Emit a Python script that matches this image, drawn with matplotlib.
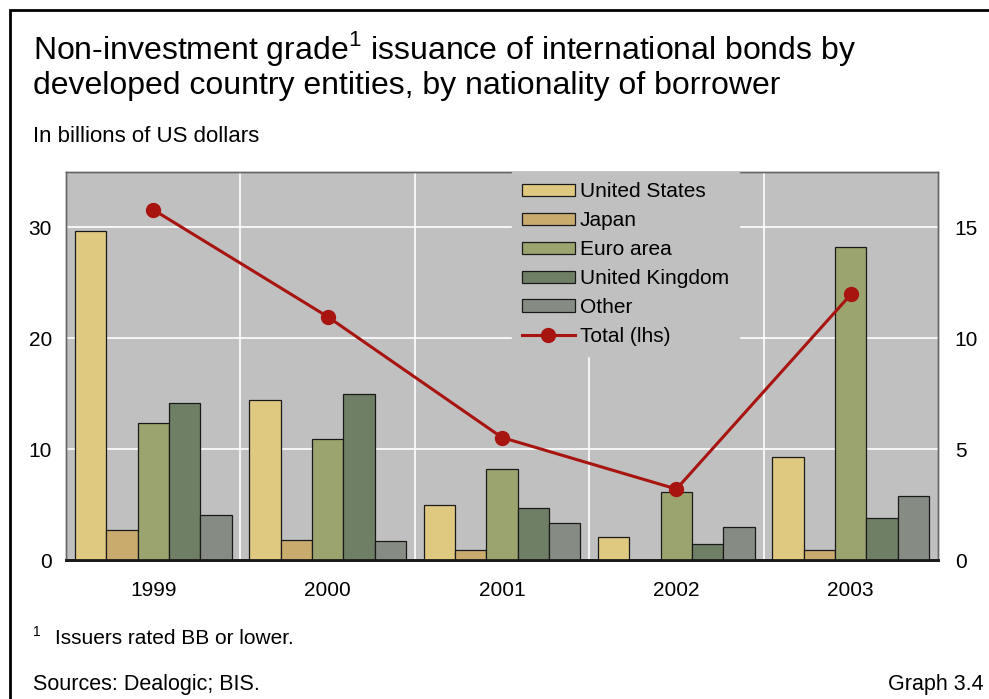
import matplotlib.pyplot as plt
import numpy as np
from matplotlib.patches import Rectangle
from matplotlib.lines import Line2D

plt.rcParams['font.family'] = ['Liberation Sans', 'DejaVu Sans']
plt.rcParams['mathtext.fontset'] = 'custom'
plt.rcParams['mathtext.rm'] = 'Liberation Sans'

years = ['1999', '2000', '2001', '2002', '2003']
series = ['United States', 'Japan', 'Euro area', 'United Kingdom', 'Other']
# issuance by nationality of borrower (right-hand scale)
us = [14.85, 7.2, 2.5, 1.05, 4.65]
japan = [1.35, 0.9, 0.45, 0.0, 0.45]
euro = [6.2, 5.45, 4.1, 3.05, 14.1]
uk = [7.1, 7.5, 2.35, 0.7, 1.9]
other = [2.05, 0.85, 1.65, 1.5, 2.9]
# total (left-hand scale)
total = [31.6, 21.95, 11.05, 6.4, 23.95]

colors = ['#DFC87F', '#C9AB6E', '#9BA46E', '#6F7F66', '#868C84']
line_color = '#A81410'
bg = '#C0C0C0'

fig = plt.figure(figsize=(9.89, 6.99), dpi=100)
ax = fig.add_axes([66 / 989, 1 - 560 / 699, (938 - 66) / 989, (560 - 172) / 699])
ax.set_facecolor(bg)

x = np.arange(len(years))
w = 0.18
for i, vals in enumerate([us, japan, euro, uk, other]):
    ax.bar(x + (i - 2) * w, vals, w, color=colors[i], edgecolor='#1a1a1a',
           linewidth=0.9, zorder=3)

ax.set_xlim(-0.5, 4.5)
ax.set_ylim(0, 17.5)
ax.set_yticks([0, 5, 10, 15])
ax.grid(axis='y', color='white', linewidth=1.2, zorder=1)
ax.set_axisbelow(True)
for b in [0.5, 1.5, 2.5, 3.5]:
    ax.axvline(b, color='white', linewidth=1.2, zorder=1)
ax.set_xticks(x)
ax.set_xticklabels(years)

# line on the left scale, drawn over the bars
ax2 = ax.twinx()
ax2.set_ylim(0, 35)
ax2.set_yticks([0, 10, 20, 30])
ax2.yaxis.tick_left()
ax.yaxis.tick_right()
ax.tick_params(length=0, labelsize=15)
ax.tick_params(axis='x', pad=15)
ax.tick_params(axis='y', pad=12)
ax2.tick_params(length=0, labelsize=15, pad=10)
ax2.plot(x, total, color=line_color, linewidth=2.2, marker='o', markersize=10,
         zorder=5)

for a in (ax, ax2):
    for s in ['left', 'right', 'top']:
        a.spines[s].set_color('#666666')
        a.spines[s].set_linewidth(1)
    a.spines['bottom'].set_color('#1a1a1a')
    a.spines['bottom'].set_linewidth(2)

handles = [Rectangle((0, 0), 1, 1, facecolor=c, edgecolor='#1a1a1a', linewidth=0.9)
           for c in colors]
handles.append(Line2D([], [], color=line_color, linewidth=2.2, marker='o', markersize=10))
leg = ax2.legend(handles, series + ['Total (lhs)'], loc='upper left',
                 bbox_to_anchor=(512 / 989, 1 - 172 / 699), bbox_transform=fig.transFigure,
                 fontsize=15, frameon=True, facecolor=bg, edgecolor=bg, framealpha=1,
                 fancybox=False, handlelength=2.5, handleheight=0.55,
                 handletextpad=0.25, labelspacing=0.476, borderpad=0.5, borderaxespad=0)

# frame around the whole graph
fig.patches.append(Rectangle((10 / 989, -0.05), 1.05, 1 - 10 / 699 + 0.05,
                             transform=fig.transFigure, fill=False, edgecolor='black',
                             linewidth=2))

fig.text(33 / 989, 1 - 59 / 699, 'Non-investment grade$^{1}$ issuance of international bonds by',
         fontsize=23, va='baseline')
fig.text(33 / 989, 1 - 94 / 699, 'developed country entities, by nationality of borrower',
         fontsize=23, va='baseline')
fig.text(33 / 989, 1 - 142 / 699, 'In billions of US dollars', fontsize=16, va='baseline')
fig.text(33 / 989, 1 - 636 / 699, '1', fontsize=10, va='baseline')
fig.text(55 / 989, 1 - 644 / 699, 'Issuers rated BB or lower.', fontsize=15, va='baseline')
fig.text(33 / 989, 1 - 690 / 699, 'Sources: Dealogic; BIS.', fontsize=15.5, va='baseline')
fig.text(984 / 989, 1 - 690 / 699, 'Graph 3.4', fontsize=15.5, va='baseline', ha='right')

fig.savefig('out.png', dpi=100)
